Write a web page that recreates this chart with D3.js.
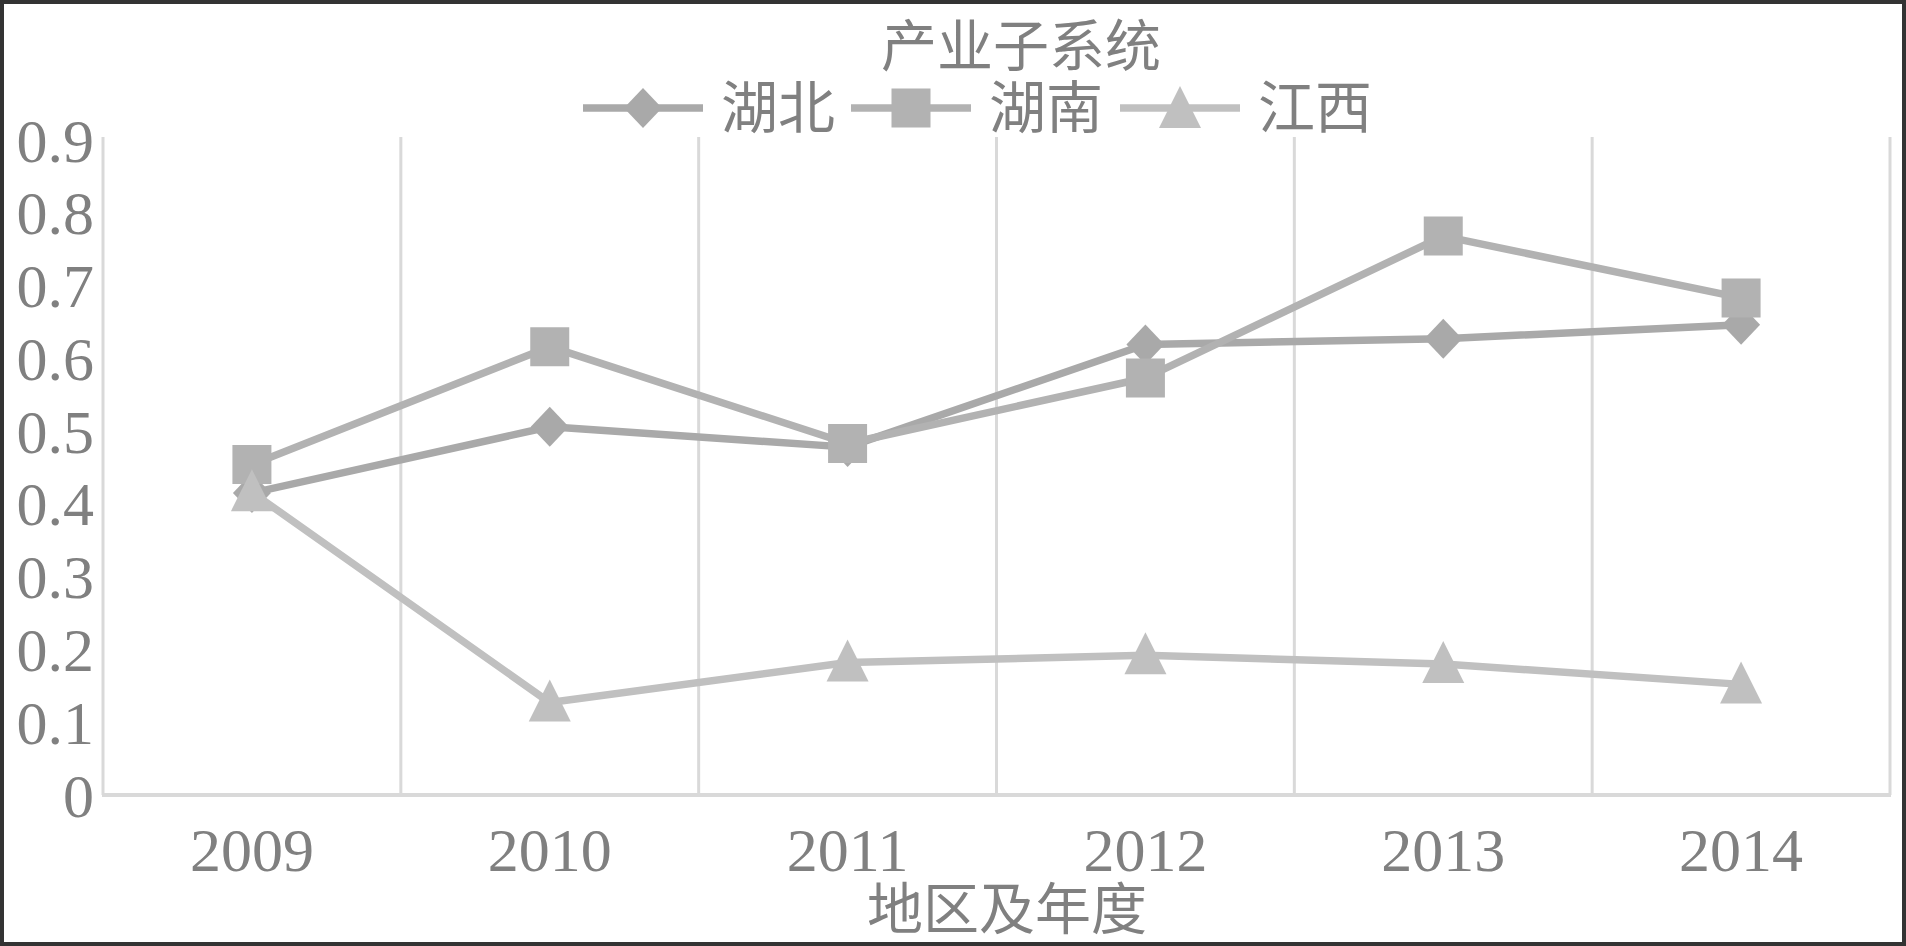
<!DOCTYPE html>
<html><head><meta charset="utf-8">
<script src="https://cdn.jsdelivr.net/npm/d3@7"></script>
<style>
html,body{margin:0;padding:0;background:#fff;overflow:hidden}
svg{display:block}
</style></head>
<body>
<script>
const years = ["2009","2010","2011","2012","2013","2014"];
const hubei = [0.415,0.506,0.478,0.619,0.627,0.646];
const hunan = [0.454,0.616,0.483,0.573,0.768,0.683];
const jiangxi = [0.416,0.127,0.182,0.192,0.180,0.152];
const seriesNames = ["湖北","湖南","江西"];
const yTicks = [0,0.1,0.2,0.3,0.4,0.5,0.6,0.7,0.8,0.9];
const titleText = "产业子系统";
const xTitleText = "地区及年度";

(function(){
const W = 1906, H = 946;
const svg = d3.select("body").append("svg").attr("width", W).attr("height", H);
svg.append("rect").attr("x",2).attr("y",2).attr("width",W-4).attr("height",H-4)
  .attr("fill","#fff").attr("stroke","#333").attr("stroke-width",4);

const pLeft = 103, pRight = 1890, pTop = 140, pBottom = 795;
const x = d3.scaleBand().domain(years).range([pLeft, pRight]).padding(0);
const y = d3.scaleLinear().domain([0, 0.9]).range([pBottom, pTop]);

const serif = "'Liberation Serif','Times New Roman',serif";
const cjk = "'Noto Sans CJK SC','Noto Sans CJK JP',sans-serif";
const textCol = "#808080";
const gridCol = "#d9d9d9";

const bounds = years.map(d => x(d)).concat([x(years[years.length-1]) + x.bandwidth()]);
svg.append("g").selectAll("line").data(bounds).join("line")
  .attr("x1", d=>d).attr("x2", d=>d).attr("y1", pTop-3).attr("y2", pBottom)
  .attr("stroke", gridCol).attr("stroke-width", 3);

svg.append("line").attr("x1", pLeft-1).attr("x2", pRight+1).attr("y1", pBottom).attr("y2", pBottom)
  .attr("stroke", gridCol).attr("stroke-width", 4);

const yAxis = d3.axisLeft(y).tickValues(yTicks).tickSize(0).tickPadding(9)
  .tickFormat(d => d === 0 ? "0" : d3.format(".1f")(d));
const ya = svg.append("g").attr("transform", `translate(${pLeft},0)`).call(yAxis);
ya.select(".domain").remove();
ya.selectAll("text").attr("font-family", serif).attr("font-size", 62).attr("fill", textCol).attr("dy","0.34em");

const xAxis = d3.axisBottom(x).tickSize(0).tickPadding(0);
const xa = svg.append("g").attr("transform", `translate(0,${pBottom})`).call(xAxis);
xa.select(".domain").remove();
xa.selectAll("text").attr("font-family", serif).attr("font-size", 62).attr("fill", textCol)
  .attr("y", 76).attr("dy", 0);

const series = [
  {name: seriesNames[0], values: hubei, color: "#a9a9a9", shape: "diamond"},
  {name: seriesNames[1], values: hunan, color: "#b2b2b2", shape: "square"},
  {name: seriesNames[2], values: jiangxi, color: "#c0c0c0", shape: "triangle"}
];
const cx = d => x(d) + x.bandwidth()/2;
const line = d3.line().x((v,i)=>cx(years[i])).y(v=>y(v));

function markerPath(shape){
  if (shape === "diamond") return "M0,-20 L19,0 L0,20 L-19,0 Z";
  if (shape === "square") return "M-19.5,-19.5 H19.5 V19.5 H-19.5 Z";
  return "M0,-22 L21,20 L-21,20 Z";
}

series.forEach(s => {
  const g = svg.append("g");
  g.append("path").datum(s.values).attr("d", line).attr("fill","none")
    .attr("stroke", s.color).attr("stroke-width", 7.5).attr("stroke-linejoin","round");
  g.selectAll("path.m").data(s.values).join("path").attr("class","m")
    .attr("d", markerPath(s.shape))
    .attr("transform", (v,i)=>`translate(${cx(years[i])},${y(v) + (s.shape==="triangle"?-1:0)})`)
    .attr("fill", s.color);
});

svg.append("text").attr("x", 1021).attr("y", 66).attr("text-anchor","middle")
  .attr("font-family", cjk).attr("font-size", 56).attr("fill", textCol).text(titleText);

const legX = [583, 851, 1120];
const legY = 108;
series.forEach((s,i) => {
  const g = svg.append("g").attr("transform", `translate(${legX[i]},${legY})`);
  g.append("line").attr("x1",0).attr("x2",120).attr("y1",0).attr("y2",0)
    .attr("stroke", s.color).attr("stroke-width", 7.5);
  g.append("path").attr("d", markerPath(s.shape)).attr("transform","translate(60,0)").attr("fill", s.color);
  g.append("text").attr("x", 138).attr("y", 20).attr("font-family", cjk).attr("font-size", 57)
    .attr("fill", textCol).text(s.name);
});

svg.append("text").attr("x", 1007).attr("y", 929).attr("text-anchor","middle")
  .attr("font-family", cjk).attr("font-size", 56).attr("fill", textCol).text(xTitleText);
})();
</script>
</body></html>
